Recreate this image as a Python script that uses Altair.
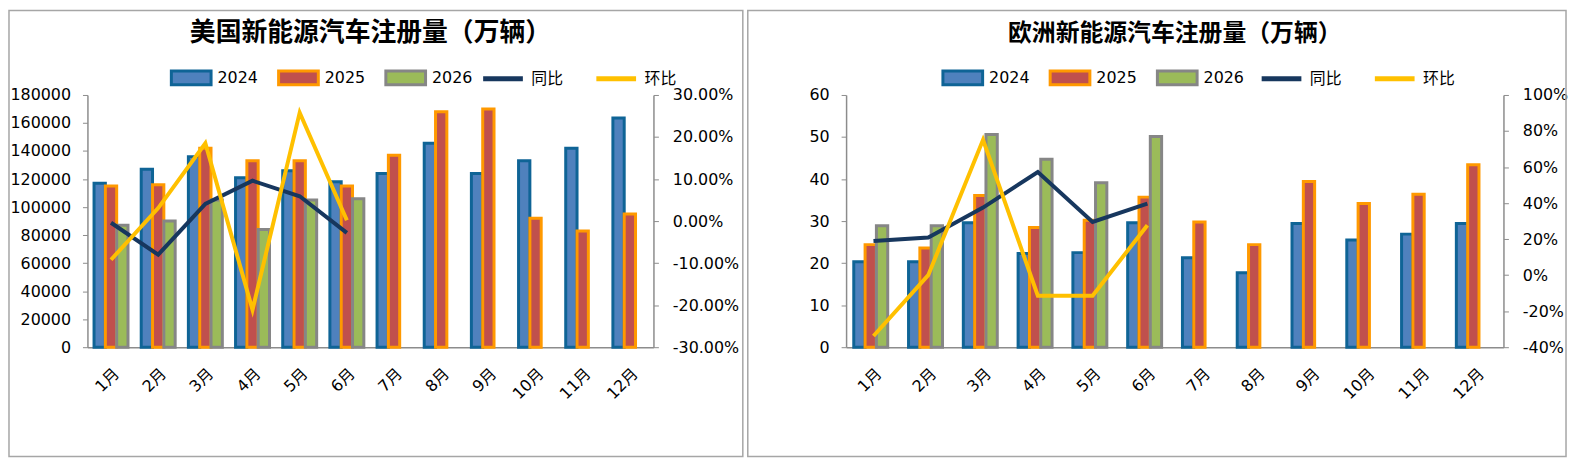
import altair as alt
import pandas as pd

months = ["1月", "2月", "3月", "4月", "5月", "6月", "7月", "8月", "9月", "10月", "11月", "12月"]
years = ["2024", "2025", "2026"]
metrics = ["同比", "环比"]

# 美国新能源汽车注册量
us_2024 = [117000, 127000, 136000, 121000, 126000, 118000, 124000, 145500, 124000, 133000, 142000, 163500]
us_2025 = [115000, 116000, 142000, 133000, 133000, 115000, 137000, 168000, 170000, 92000, 83000, 95000]
us_2026 = [87000, 90000, 105000, 84000, 105000, 106000]
us_yoy = [-0.004, -0.080, 0.041, 0.096, 0.059, -0.028]
us_mom = [-0.092, 0.031, 0.185, -0.211, 0.258, 0.002]

# 欧洲新能源汽车注册量
eu_2024 = [20.3, 20.3, 29.6, 22.3, 22.5, 29.6, 21.3, 17.7, 29.4, 25.5, 26.9, 29.4]
eu_2025 = [24.4, 23.6, 36.1, 28.5, 30.2, 35.7, 29.8, 24.4, 39.4, 34.2, 36.4, 43.4]
eu_2026 = [28.9, 28.9, 50.6, 44.7, 39.1, 50.1]
eu_yoy = [0.190, 0.209, 0.375, 0.572, 0.295, 0.397]
eu_mom = [-0.338, 0.000, 0.751, -0.114, -0.114, 0.277]

fill_colors = ["#4F81BD", "#C0504D", "#9BBB59"]
stroke_colors = ["#0F6496", "#FF9900", "#868686"]
line_colors = ["#17375E", "#FFC000"]

FONT = "DejaVu Sans, Noto Sans CJK SC"
TITLE_FONT = "Noto Sans CJK SC"
AXIS_GRAY = "#8C8C8C"


def bar_frame(v24, v25, v26):
    rows = []
    for y, vals in zip(years, [v24, v25, v26]):
        for m, v in zip(months, vals):
            rows.append({"月份": m, "年份": y, "值": v})
    return pd.DataFrame(rows)


def line_frame(yoy, mom):
    rows = []
    for name, vals in zip(metrics, [yoy, mom]):
        for m, v in zip(months, vals):
            rows.append({"月份": m, "指标": name, "比率": v})
    return pd.DataFrame(rows)


def panel(title, title_size, width, height, bars_df, lines_df, ymax, ystep, rdom, rstep, rfmt,
          bar_leg_x, line_leg_x, box_left, box_right):
    x_enc = alt.X(
        "月份:N", sort=months, title=None,
        scale=alt.Scale(paddingInner=0.28, paddingOuter=0.14),
        axis=alt.Axis(labelAngle=-45, labelFont=FONT, labelFontSize=16, labelColor="#000000",
                      ticks=False, domainColor=AXIS_GRAY, domainWidth=1.5, labelPadding=18),
    )
    border = alt.Chart(alt.Data(values=[{"k": 1}])).mark_rect(
        fillOpacity=0, stroke="#A6A6A6", strokeWidth=1.5
    ).encode(
        x=alt.value(box_left), x2=alt.value(width + box_right),
        y=alt.value(-85), y2=alt.value(height + 110),
    )
    bar_legend = alt.Legend(
        orient="none", legendX=bar_leg_x, legendY=-39, direction="horizontal", columns=3,
        title=None, symbolType="M-1,-0.35H1V0.35H-1Z", symbolSize=1600, symbolStrokeWidth=3,
        labelFont=FONT, labelFontSize=16, labelColor="#000000", labelOffset=5, columnPadding=14,
    )
    bars = alt.Chart(bars_df).mark_bar(strokeWidth=3).encode(
        x=x_enc,
        xOffset=alt.XOffset("年份:N", scale=alt.Scale(domain=years)),
        y=alt.Y("值:Q", title=None,
                scale=alt.Scale(domain=[0, ymax], nice=False),
                axis=alt.Axis(orient="left", values=list(range(0, ymax + 1, ystep)), format="d",
                              grid=False, labelFont=FONT, labelFontSize=16, labelColor="#000000",
                              domainColor=AXIS_GRAY, domainWidth=1.5, tickColor=AXIS_GRAY,
                              tickSize=5, labelPadding=12)),
        fill=alt.Fill("年份:N", scale=alt.Scale(domain=years, range=fill_colors), legend=bar_legend),
        stroke=alt.Stroke("年份:N", scale=alt.Scale(domain=years, range=stroke_colors), legend=bar_legend),
    )
    rvals = []
    v = rdom[0]
    while v <= rdom[1] + 1e-9:
        rvals.append(round(v, 4))
        v += rstep
    lines = alt.Chart(lines_df).mark_line(strokeWidth=4).encode(
        x=x_enc,
        y=alt.Y("比率:Q", title=None,
                scale=alt.Scale(domain=rdom, nice=False),
                axis=alt.Axis(orient="right", values=rvals, grid=False,
                              labelExpr="(datum.value < 0 ? '-' : '') + format(abs(datum.value), '" + rfmt + "')",
                              labelFont=FONT, labelFontSize=16, labelColor="#000000",
                              domainColor=AXIS_GRAY, domainWidth=1.5, tickColor=AXIS_GRAY,
                              tickSize=5, labelPadding=14)),
        color=alt.Color("指标:N", scale=alt.Scale(domain=metrics, range=line_colors),
                        legend=alt.Legend(orient="none", legendX=line_leg_x, legendY=-39,
                                          direction="horizontal", columns=2, title=None,
                                          symbolType="stroke", symbolSize=1600, symbolStrokeWidth=5,
                                          labelFont=FONT, labelFontSize=16, labelColor="#000000",
                                          labelOffset=6, columnPadding=22)),
    )
    return alt.layer(border, bars, lines).resolve_scale(y="independent").properties(
        width=width, height=height,
        title=alt.TitleParams(title, font=TITLE_FONT, fontSize=title_size, fontWeight="bold",
                              color="#000000", anchor="middle", frame="group", offset=-36),
    )


left = panel("美国新能源汽车注册量（万辆）", 26, 570, 254,
             bar_frame(us_2024, us_2025, us_2026), line_frame(us_yoy, us_mom),
             180000, 20000, [-0.3, 0.3], 0.1, ".2%", 83, 396, -79, 90)
right = panel("欧洲新能源汽车注册量（万辆）", 24, 662, 254,
              bar_frame(eu_2024, eu_2025, eu_2026), line_frame(eu_yoy, eu_mom),
              60, 10, [-0.4, 1.0], 0.2, ".0%", 96, 416, -99, 63)

chart = (
    alt.hconcat(left, right, spacing=3)
    .resolve_scale(fill="independent", stroke="independent", color="independent")
    .resolve_legend(fill="independent", stroke="independent", color="independent")
    .properties(padding=0)
    .configure_view(strokeWidth=0)
)

chart.save("out.html", embed_options={"renderer": "svg", "actions": False})
